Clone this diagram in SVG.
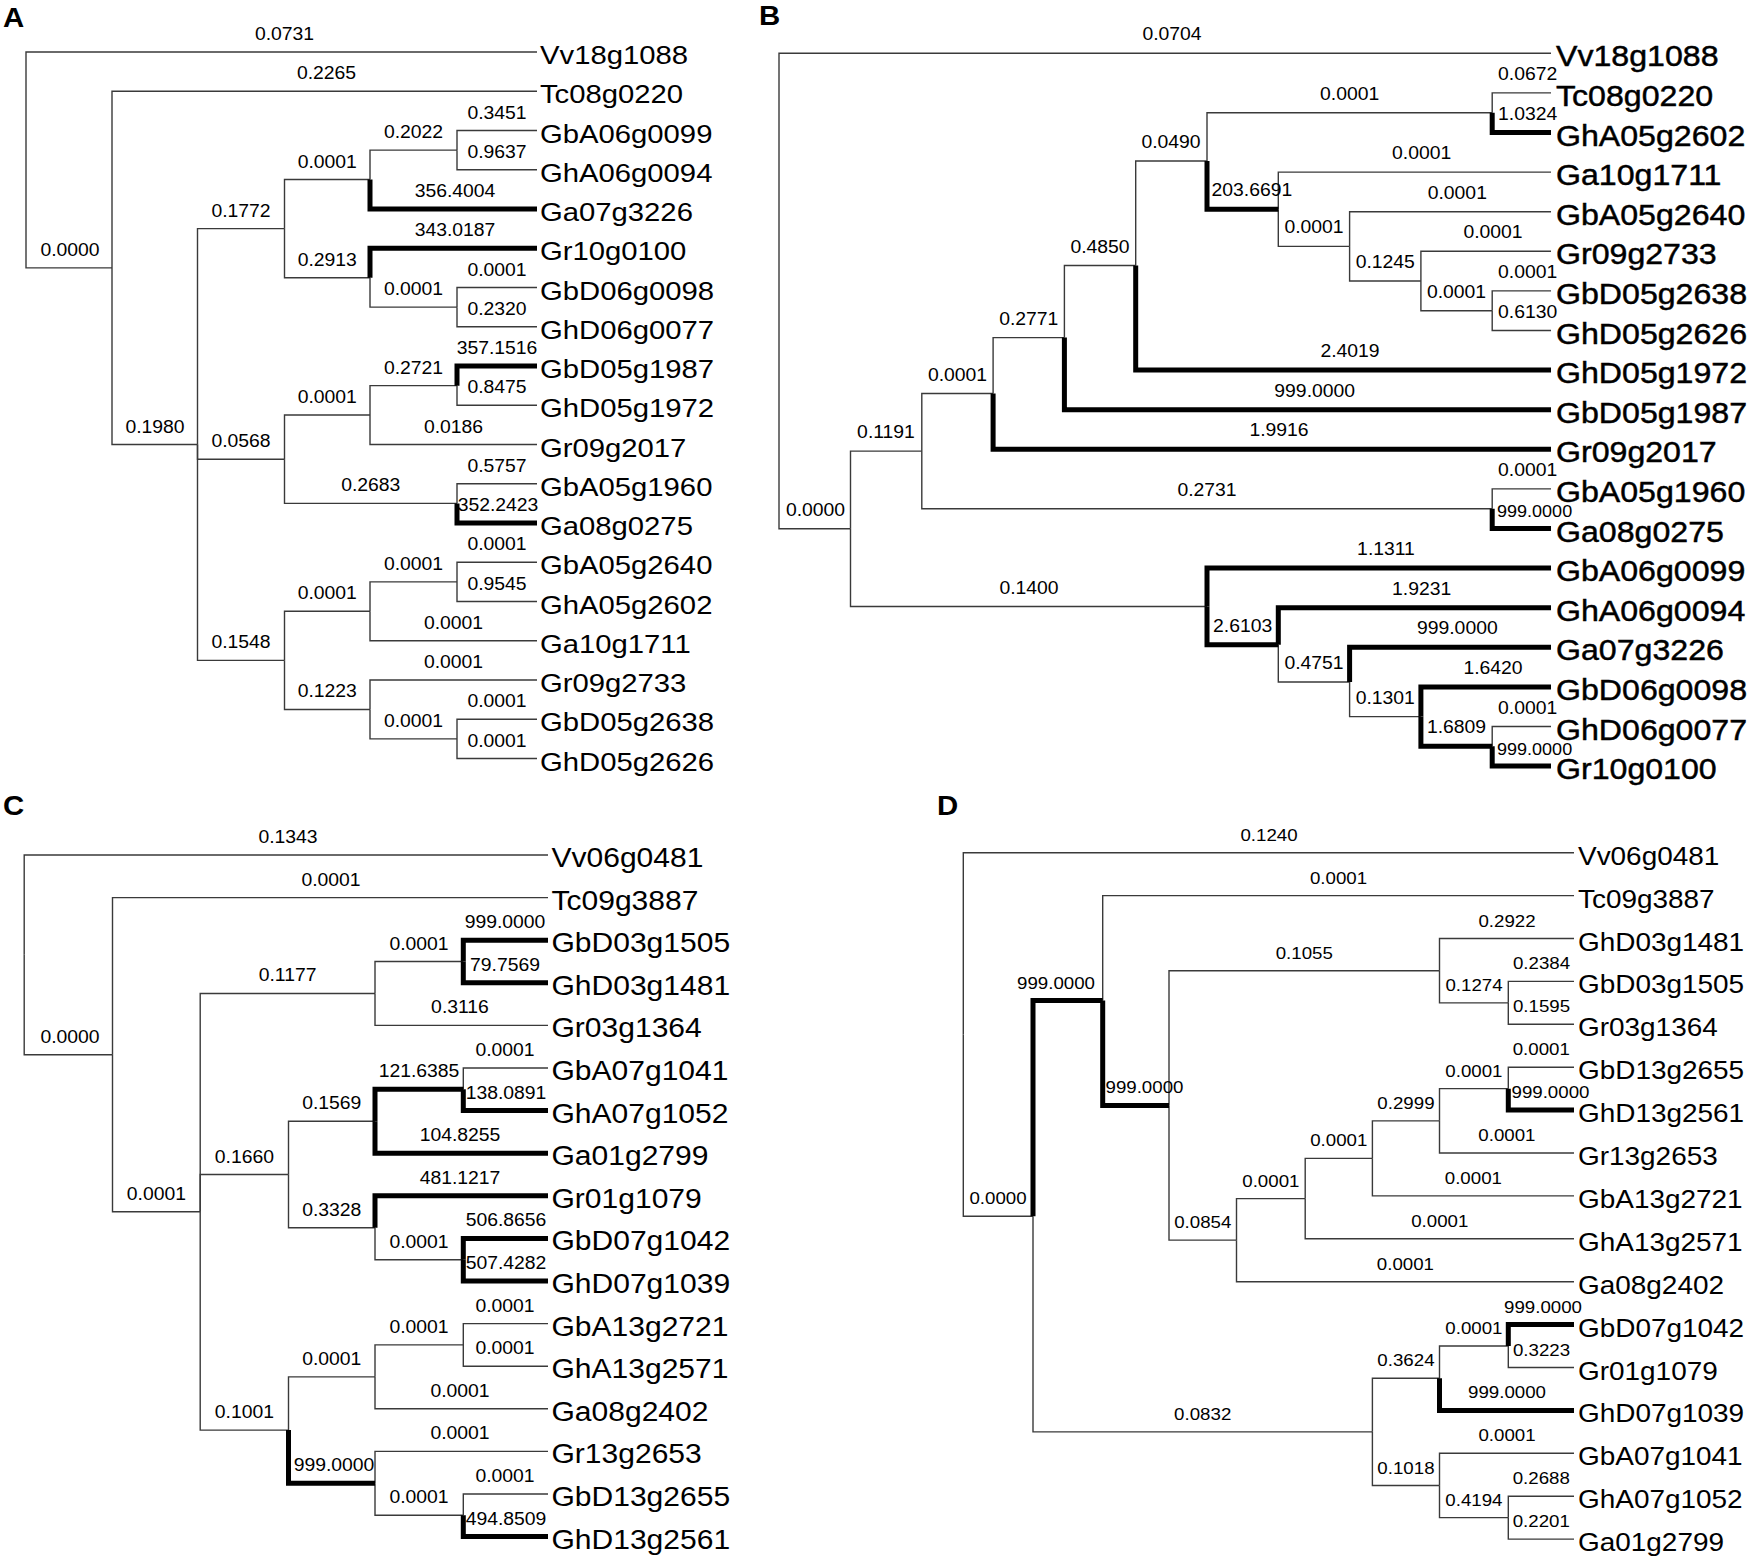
<svg xmlns="http://www.w3.org/2000/svg" width="1750" height="1559" viewBox="0 0 1750 1559">
<style>
.t{fill:none;stroke:#3a3a3a;stroke-width:1.4}
.k{fill:none;stroke:#000;stroke-width:5;stroke-linejoin:miter;stroke-linecap:butt}
text{font-family:"Liberation Sans",Arial,sans-serif;fill:#000}
.bl{font-size:17.6px;text-anchor:middle}
.bs{font-size:17.6px;text-anchor:start}
.bn{font-size:16.4px;text-anchor:start}
.dl{font-size:17px;text-anchor:middle}
.ds{font-size:17px;text-anchor:start}
.ta{font-size:26.6px}
.tb{font-size:29.2px;stroke:#000;stroke-width:0.45}
.tc{font-size:27.3px}
.td{font-size:25.4px}
.pl{font-size:28px;font-weight:bold}
</style>
<rect width="1750" height="1559" fill="#fff"/>

<g id="panel-labels">
<text class="pl" transform="translate(3 27) scale(1.05 1)">A</text>
<text class="pl" transform="translate(759 25) scale(1.05 1)">B</text>
<text class="pl" transform="translate(3 815) scale(1.05 1)">C</text>
<text class="pl" transform="translate(937 815) scale(1.05 1)">D</text>
</g>

<!-- ================= PANEL A ================= -->
<g id="A-connectors">
<path class="t" d="M26 159.94V52H537"/>
<path class="t" d="M26 159.94V267.875H112"/>
<path class="t" d="M112 267.875V91.25H537"/>
<path class="t" d="M112 267.875V444.5H197.5"/>
<path class="t" d="M197.5 444.5V228.63H284.5"/>
<path class="t" d="M197.5 444.5V459.22H284.5"/>
<path class="t" d="M197.5 444.5V660.375H284.5"/>
<path class="t" d="M284.5 228.63V179.56H370"/>
<path class="t" d="M284.5 228.63V277.69H370"/>
<path class="t" d="M370 179.56V150.125H457"/>
<path class="t" d="M457 150.125V130.5H537"/>
<path class="t" d="M457 150.125V169.75H537"/>
<path class="t" d="M370 277.69V307.125H457"/>
<path class="t" d="M457 307.125V287.5H537"/>
<path class="t" d="M457 307.125V326.75H537"/>
<path class="t" d="M284.5 459.22V415.06H370"/>
<path class="t" d="M284.5 459.22V503.375H457"/>
<path class="t" d="M370 415.06V385.625H457"/>
<path class="t" d="M370 415.06V444.5H537"/>
<path class="t" d="M457 385.625V405.25H537"/>
<path class="t" d="M457 503.375V483.75H537"/>
<path class="t" d="M284.5 660.375V611.31H370"/>
<path class="t" d="M284.5 660.375V709.44H370"/>
<path class="t" d="M370 611.31V581.875H457"/>
<path class="t" d="M370 611.31V640.75H537"/>
<path class="t" d="M457 581.875V562.25H537"/>
<path class="t" d="M457 581.875V601.5H537"/>
<path class="t" d="M370 709.44V680H537"/>
<path class="t" d="M370 709.44V738.875H457"/>
<path class="t" d="M457 738.875V719.25H537"/>
<path class="t" d="M457 738.875V758.5H537"/>
<path class="k" d="M370 179.56V209H537"/>
<path class="k" d="M370 277.69V248.25H537"/>
<path class="k" d="M457 385.625V366H537"/>
<path class="k" d="M457 503.375V523H537"/>
<g id="A-branch-labels">
<text class="bl" transform="translate(284.5 40) scale(1.1 1)">0.0731</text>
<text class="bl" transform="translate(70 255.9) scale(1.1 1)">0.0000</text>
<text class="bl" transform="translate(326.5 79.25) scale(1.1 1)">0.2265</text>
<text class="bl" transform="translate(155 432.5) scale(1.1 1)">0.1980</text>
<text class="bl" transform="translate(241 216.6) scale(1.1 1)">0.1772</text>
<text class="bl" transform="translate(241 447.2) scale(1.1 1)">0.0568</text>
<text class="bl" transform="translate(241 648.4) scale(1.1 1)">0.1548</text>
<text class="bl" transform="translate(327.25 167.56) scale(1.1 1)">0.0001</text>
<text class="bl" transform="translate(327.25 265.7) scale(1.1 1)">0.2913</text>
<text class="bl" transform="translate(413.5 138.1) scale(1.1 1)">0.2022</text>
<text class="bl" transform="translate(455 197) scale(1.1 1)">356.4004</text>
<text class="bl" transform="translate(497 118.5) scale(1.1 1)">0.3451</text>
<text class="bl" transform="translate(497 157.75) scale(1.1 1)">0.9637</text>
<text class="bl" transform="translate(455 236.25) scale(1.1 1)">343.0187</text>
<text class="bl" transform="translate(413.5 295.1) scale(1.1 1)">0.0001</text>
<text class="bl" transform="translate(497 275.5) scale(1.1 1)">0.0001</text>
<text class="bl" transform="translate(497 314.75) scale(1.1 1)">0.2320</text>
<text class="bl" transform="translate(327.25 403.06) scale(1.1 1)">0.0001</text>
<text class="bl" transform="translate(370.75 491.4) scale(1.1 1)">0.2683</text>
<text class="bl" transform="translate(413.5 373.6) scale(1.1 1)">0.2721</text>
<text class="bl" transform="translate(453.5 432.5) scale(1.1 1)">0.0186</text>
<text class="bl" transform="translate(497 354) scale(1.1 1)">357.1516</text>
<text class="bl" transform="translate(497 393.25) scale(1.1 1)">0.8475</text>
<text class="bl" transform="translate(497 471.75) scale(1.1 1)">0.5757</text>
<text class="bl" transform="translate(498 511) scale(1.1 1)">352.2423</text>
<text class="bl" transform="translate(327.25 599.3) scale(1.1 1)">0.0001</text>
<text class="bl" transform="translate(327.25 697.4) scale(1.1 1)">0.1223</text>
<text class="bl" transform="translate(413.5 569.9) scale(1.1 1)">0.0001</text>
<text class="bl" transform="translate(453.5 628.75) scale(1.1 1)">0.0001</text>
<text class="bl" transform="translate(497 550.25) scale(1.1 1)">0.0001</text>
<text class="bl" transform="translate(497 589.5) scale(1.1 1)">0.9545</text>
<text class="bl" transform="translate(453.5 668) scale(1.1 1)">0.0001</text>
<text class="bl" transform="translate(413.5 726.9) scale(1.1 1)">0.0001</text>
<text class="bl" transform="translate(497 707.25) scale(1.1 1)">0.0001</text>
<text class="bl" transform="translate(497 746.5) scale(1.1 1)">0.0001</text>
</g>
</g>
<g id="A-nodes" transform="translate(0 1)">
<g id="A-Vv18g1088"><text class="ta" transform="translate(540 63) scale(1.1 1)">Vv18g1088</text></g>
<g id="A-Tc08g0220"><text class="ta" transform="translate(540 102.25) scale(1.1 1)">Tc08g0220</text></g>
<g id="A-GbA06g0099"><text class="ta" transform="translate(540 141.5) scale(1.1 1)">GbA06g0099</text></g>
<g id="A-GhA06g0094"><text class="ta" transform="translate(540 180.75) scale(1.1 1)">GhA06g0094</text></g>
<g id="A-Ga07g3226"><text class="ta" transform="translate(540 220) scale(1.1 1)">Ga07g3226</text></g>
<g id="A-Gr10g0100"><text class="ta" transform="translate(540 259.25) scale(1.1 1)">Gr10g0100</text></g>
<g id="A-GbD06g0098"><text class="ta" transform="translate(540 298.5) scale(1.1 1)">GbD06g0098</text></g>
<g id="A-GhD06g0077"><text class="ta" transform="translate(540 337.75) scale(1.1 1)">GhD06g0077</text></g>
<g id="A-GbD05g1987"><text class="ta" transform="translate(540 377) scale(1.1 1)">GbD05g1987</text></g>
<g id="A-GhD05g1972"><text class="ta" transform="translate(540 416.25) scale(1.1 1)">GhD05g1972</text></g>
<g id="A-Gr09g2017"><text class="ta" transform="translate(540 455.5) scale(1.1 1)">Gr09g2017</text></g>
<g id="A-GbA05g1960"><text class="ta" transform="translate(540 494.75) scale(1.1 1)">GbA05g1960</text></g>
<g id="A-Ga08g0275"><text class="ta" transform="translate(540 534) scale(1.1 1)">Ga08g0275</text></g>
<g id="A-GbA05g2640"><text class="ta" transform="translate(540 573.25) scale(1.1 1)">GbA05g2640</text></g>
<g id="A-GhA05g2602"><text class="ta" transform="translate(540 612.5) scale(1.1 1)">GhA05g2602</text></g>
<g id="A-Ga10g1711"><text class="ta" transform="translate(540 651.75) scale(1.1 1)">Ga10g1711</text></g>
<g id="A-Gr09g2733"><text class="ta" transform="translate(540 691) scale(1.1 1)">Gr09g2733</text></g>
<g id="A-GbD05g2638"><text class="ta" transform="translate(540 730.25) scale(1.1 1)">GbD05g2638</text></g>
<g id="A-GhD05g2626"><text class="ta" transform="translate(540 769.5) scale(1.1 1)">GhD05g2626</text></g>
</g>

<!-- ================= PANEL B ================= -->
<g id="B-connectors">
<path class="t" d="M779 291.03V53.3H1551"/>
<path class="t" d="M779 291.03V528.77H850.5"/>
<path class="t" d="M850.5 528.77V451.08H921.8"/>
<path class="t" d="M850.5 528.77V606.46H1207"/>
<path class="t" d="M921.8 451.08V393.46H993.1"/>
<path class="t" d="M921.8 451.08V508.7H1492.2"/>
<path class="t" d="M1492.2 508.7V488.9H1551"/>
<path class="t" d="M993.1 393.46V337.62H1064.4"/>
<path class="t" d="M1064.4 337.62V265.53H1135.7"/>
<path class="t" d="M1135.7 265.53V160.96H1207"/>
<path class="t" d="M1207 160.96V112.7H1492.2"/>
<path class="t" d="M1492.2 112.7V92.9H1551"/>
<path class="t" d="M1278.3 209.225V172.1H1551"/>
<path class="t" d="M1278.3 209.225V246.35H1349.6"/>
<path class="t" d="M1349.6 246.35V211.7H1551"/>
<path class="t" d="M1349.6 246.35V281H1420.9"/>
<path class="t" d="M1420.9 281V251.3H1551"/>
<path class="t" d="M1420.9 281V310.7H1492.2"/>
<path class="t" d="M1492.2 310.7V290.9H1551"/>
<path class="t" d="M1492.2 310.7V330.5H1551"/>
<path class="t" d="M1278.3 644.83V681.95H1349.6"/>
<path class="t" d="M1349.6 681.95V716.6H1420.9"/>
<path class="t" d="M1492.2 746.3V726.5H1551"/>
<path class="k" d="M1492.2 508.7V528.5H1551"/>
<path class="k" d="M993.1 393.46V449.3H1551"/>
<path class="k" d="M1064.4 337.62V409.7H1551"/>
<path class="k" d="M1135.7 265.53V370.1H1551"/>
<path class="k" d="M1207 160.96V209.225H1278.3"/>
<path class="k" d="M1492.2 112.7V132.5H1551"/>
<path class="k" d="M1207 606.46V568.1H1551"/>
<path class="k" d="M1207 606.46V644.83H1278.3"/>
<path class="k" d="M1278.3 644.83V607.7H1551"/>
<path class="k" d="M1349.6 681.95V647.3H1551"/>
<path class="k" d="M1420.9 716.6V686.9H1551"/>
<path class="k" d="M1420.9 716.6V746.3H1492.2"/>
<path class="k" d="M1492.2 746.3V766.1H1551"/>
<g id="B-branch-labels">
<text class="bl" transform="translate(1172 40.3) scale(1.1 1)">0.0704</text>
<text class="bl" transform="translate(815.5 515.8) scale(1.1 1)">0.0000</text>
<text class="bl" transform="translate(886 438) scale(1.1 1)">0.1191</text>
<text class="bl" transform="translate(1029 593.5) scale(1.1 1)">0.1400</text>
<text class="bl" transform="translate(957.5 380.5) scale(1.1 1)">0.0001</text>
<text class="bl" transform="translate(1207 495.7) scale(1.1 1)">0.2731</text>
<text class="bs" transform="translate(1498 475.9) scale(1.1 1)">0.0001</text>
<text class="bn" transform="translate(1497 517) scale(1.1 1)">999.0000</text>
<text class="bl" transform="translate(1028.75 324.6) scale(1.1 1)">0.2771</text>
<text class="bl" transform="translate(1279 436.3) scale(1.1 1)">1.9916</text>
<text class="bl" transform="translate(1100 252.5) scale(1.1 1)">0.4850</text>
<text class="bl" transform="translate(1314.7 396.7) scale(1.1 1)">999.0000</text>
<text class="bl" transform="translate(1171 148) scale(1.1 1)">0.0490</text>
<text class="bl" transform="translate(1350 357.1) scale(1.1 1)">2.4019</text>
<text class="bl" transform="translate(1349.6 99.7) scale(1.1 1)">0.0001</text>
<text class="bs" transform="translate(1211.5 196.2) scale(1.1 1)">203.6691</text>
<text class="bs" transform="translate(1498 79.9) scale(1.1 1)">0.0672</text>
<text class="bs" transform="translate(1498 119.5) scale(1.1 1)">1.0324</text>
<text class="bl" transform="translate(1421.7 159.1) scale(1.1 1)">0.0001</text>
<text class="bl" transform="translate(1314 233.35) scale(1.1 1)">0.0001</text>
<text class="bl" transform="translate(1457.3 198.7) scale(1.1 1)">0.0001</text>
<text class="bl" transform="translate(1385.25 268) scale(1.1 1)">0.1245</text>
<text class="bl" transform="translate(1493 238.3) scale(1.1 1)">0.0001</text>
<text class="bl" transform="translate(1456.5 297.7) scale(1.1 1)">0.0001</text>
<text class="bs" transform="translate(1498 277.9) scale(1.1 1)">0.0001</text>
<text class="bs" transform="translate(1498 317.5) scale(1.1 1)">0.6130</text>
<text class="bl" transform="translate(1386 555.1) scale(1.1 1)">1.1311</text>
<text class="bl" transform="translate(1242.65 631.8) scale(1.1 1)">2.6103</text>
<text class="bl" transform="translate(1421.65 594.7) scale(1.1 1)">1.9231</text>
<text class="bl" transform="translate(1314 668.95) scale(1.1 1)">0.4751</text>
<text class="bl" transform="translate(1457.3 634.3) scale(1.1 1)">999.0000</text>
<text class="bl" transform="translate(1385.25 703.6) scale(1.1 1)">0.1301</text>
<text class="bl" transform="translate(1493 673.9) scale(1.1 1)">1.6420</text>
<text class="bl" transform="translate(1456.5 733.3) scale(1.1 1)">1.6809</text>
<text class="bs" transform="translate(1498 713.5) scale(1.1 1)">0.0001</text>
<text class="bn" transform="translate(1497 754.6) scale(1.1 1)">999.0000</text>
</g>
</g>
<g id="B-nodes" transform="translate(0 0.5)">
<g id="B-Vv18g1088"><text class="tb" transform="translate(1556 65.8) scale(1.1 1)">Vv18g1088</text></g>
<g id="B-Tc08g0220"><text class="tb" transform="translate(1556 105.4) scale(1.1 1)">Tc08g0220</text></g>
<g id="B-GhA05g2602"><text class="tb" transform="translate(1556 145) scale(1.1 1)">GhA05g2602</text></g>
<g id="B-Ga10g1711"><text class="tb" transform="translate(1556 184.6) scale(1.1 1)">Ga10g1711</text></g>
<g id="B-GbA05g2640"><text class="tb" transform="translate(1556 224.2) scale(1.1 1)">GbA05g2640</text></g>
<g id="B-Gr09g2733"><text class="tb" transform="translate(1556 263.8) scale(1.1 1)">Gr09g2733</text></g>
<g id="B-GbD05g2638"><text class="tb" transform="translate(1556 303.4) scale(1.1 1)">GbD05g2638</text></g>
<g id="B-GhD05g2626"><text class="tb" transform="translate(1556 343) scale(1.1 1)">GhD05g2626</text></g>
<g id="B-GhD05g1972"><text class="tb" transform="translate(1556 382.6) scale(1.1 1)">GhD05g1972</text></g>
<g id="B-GbD05g1987"><text class="tb" transform="translate(1556 422.2) scale(1.1 1)">GbD05g1987</text></g>
<g id="B-Gr09g2017"><text class="tb" transform="translate(1556 461.8) scale(1.1 1)">Gr09g2017</text></g>
<g id="B-GbA05g1960"><text class="tb" transform="translate(1556 501.4) scale(1.1 1)">GbA05g1960</text></g>
<g id="B-Ga08g0275"><text class="tb" transform="translate(1556 541) scale(1.1 1)">Ga08g0275</text></g>
<g id="B-GbA06g0099"><text class="tb" transform="translate(1556 580.6) scale(1.1 1)">GbA06g0099</text></g>
<g id="B-GhA06g0094"><text class="tb" transform="translate(1556 620.2) scale(1.1 1)">GhA06g0094</text></g>
<g id="B-Ga07g3226"><text class="tb" transform="translate(1556 659.8) scale(1.1 1)">Ga07g3226</text></g>
<g id="B-GbD06g0098"><text class="tb" transform="translate(1556 699.4) scale(1.1 1)">GbD06g0098</text></g>
<g id="B-GhD06g0077"><text class="tb" transform="translate(1556 739) scale(1.1 1)">GhD06g0077</text></g>
<g id="B-Gr10g0100"><text class="tb" transform="translate(1556 778.6) scale(1.1 1)">Gr10g0100</text></g>
</g>

<!-- ================= PANEL C ================= -->
<g id="C-connectors">
<path class="t" d="M24.2 954.85V855H548"/>
<path class="t" d="M24.2 954.85V1054.69H112.5"/>
<path class="t" d="M112.5 1054.69V897.6H548"/>
<path class="t" d="M112.5 1054.69V1211.78H200.2"/>
<path class="t" d="M200.2 1211.78V993.45H375"/>
<path class="t" d="M200.2 1211.78V1174.5H288.5"/>
<path class="t" d="M200.2 1211.78V1430.1H288.5"/>
<path class="t" d="M375 993.45V961.5H463.3"/>
<path class="t" d="M375 993.45V1025.4H548"/>
<path class="t" d="M288.5 1174.5V1121.25H375"/>
<path class="t" d="M288.5 1174.5V1227.75H375"/>
<path class="t" d="M463.3 1089.3V1068H548"/>
<path class="t" d="M375 1227.75V1259.7H463.3"/>
<path class="t" d="M288.5 1430.1V1376.85H375"/>
<path class="t" d="M375 1376.85V1344.9H463.3"/>
<path class="t" d="M375 1376.85V1408.8H548"/>
<path class="t" d="M463.3 1344.9V1323.6H548"/>
<path class="t" d="M463.3 1344.9V1366.2H548"/>
<path class="t" d="M375 1483.35V1451.4H548"/>
<path class="t" d="M375 1483.35V1515.3H463.3"/>
<path class="t" d="M463.3 1515.3V1494H548"/>
<path class="k" d="M463.3 961.5V940.2H548"/>
<path class="k" d="M463.3 961.5V982.8H548"/>
<path class="k" d="M375 1121.25V1089.3H463.3"/>
<path class="k" d="M375 1121.25V1153.2H548"/>
<path class="k" d="M463.3 1089.3V1110.6H548"/>
<path class="k" d="M375 1227.75V1195.8H548"/>
<path class="k" d="M463.3 1259.7V1238.4H548"/>
<path class="k" d="M463.3 1259.7V1281H548"/>
<path class="k" d="M288.5 1430.1V1483.35H375"/>
<path class="k" d="M463.3 1515.3V1536.6H548"/>
<g id="C-branch-labels">
<text class="bl" transform="translate(288 843) scale(1.1 1)">0.1343</text>
<text class="bl" transform="translate(70 1042.7) scale(1.1 1)">0.0000</text>
<text class="bl" transform="translate(331 885.6) scale(1.1 1)">0.0001</text>
<text class="bl" transform="translate(156.35 1199.8) scale(1.1 1)">0.0001</text>
<text class="bl" transform="translate(287.6 981.45) scale(1.1 1)">0.1177</text>
<text class="bl" transform="translate(244.35 1162.5) scale(1.1 1)">0.1660</text>
<text class="bl" transform="translate(244.35 1418.1) scale(1.1 1)">0.1001</text>
<text class="bl" transform="translate(419 949.5) scale(1.1 1)">0.0001</text>
<text class="bl" transform="translate(460 1013.4) scale(1.1 1)">0.3116</text>
<text class="bl" transform="translate(505 928.2) scale(1.1 1)">999.0000</text>
<text class="bl" transform="translate(505 970.8) scale(1.1 1)">79.7569</text>
<text class="bl" transform="translate(331.75 1109.25) scale(1.1 1)">0.1569</text>
<text class="bl" transform="translate(331.75 1215.75) scale(1.1 1)">0.3328</text>
<text class="bl" transform="translate(419 1077.3) scale(1.1 1)">121.6385</text>
<text class="bl" transform="translate(460 1141.2) scale(1.1 1)">104.8255</text>
<text class="bl" transform="translate(505 1056) scale(1.1 1)">0.0001</text>
<text class="bl" transform="translate(506 1098.6) scale(1.1 1)">138.0891</text>
<text class="bl" transform="translate(460 1183.8) scale(1.1 1)">481.1217</text>
<text class="bl" transform="translate(419 1247.7) scale(1.1 1)">0.0001</text>
<text class="bl" transform="translate(506 1226.4) scale(1.1 1)">506.8656</text>
<text class="bl" transform="translate(506 1269) scale(1.1 1)">507.4282</text>
<text class="bl" transform="translate(331.75 1364.85) scale(1.1 1)">0.0001</text>
<text class="bl" transform="translate(334 1471.35) scale(1.1 1)">999.0000</text>
<text class="bl" transform="translate(419 1332.9) scale(1.1 1)">0.0001</text>
<text class="bl" transform="translate(460 1396.8) scale(1.1 1)">0.0001</text>
<text class="bl" transform="translate(505 1311.6) scale(1.1 1)">0.0001</text>
<text class="bl" transform="translate(505 1354.2) scale(1.1 1)">0.0001</text>
<text class="bl" transform="translate(460 1439.4) scale(1.1 1)">0.0001</text>
<text class="bl" transform="translate(419 1503.3) scale(1.1 1)">0.0001</text>
<text class="bl" transform="translate(505 1482) scale(1.1 1)">0.0001</text>
<text class="bl" transform="translate(506 1524.6) scale(1.1 1)">494.8509</text>
</g>
</g>
<g id="C-nodes" transform="translate(0 1)">
<g id="C-Vv06g0481"><text class="tc" transform="translate(551.5 866) scale(1.1 1)">Vv06g0481</text></g>
<g id="C-Tc09g3887"><text class="tc" transform="translate(551.5 908.6) scale(1.1 1)">Tc09g3887</text></g>
<g id="C-GbD03g1505"><text class="tc" transform="translate(551.5 951.2) scale(1.1 1)">GbD03g1505</text></g>
<g id="C-GhD03g1481"><text class="tc" transform="translate(551.5 993.8) scale(1.1 1)">GhD03g1481</text></g>
<g id="C-Gr03g1364"><text class="tc" transform="translate(551.5 1036.4) scale(1.1 1)">Gr03g1364</text></g>
<g id="C-GbA07g1041"><text class="tc" transform="translate(551.5 1079) scale(1.1 1)">GbA07g1041</text></g>
<g id="C-GhA07g1052"><text class="tc" transform="translate(551.5 1121.6) scale(1.1 1)">GhA07g1052</text></g>
<g id="C-Ga01g2799"><text class="tc" transform="translate(551.5 1164.2) scale(1.1 1)">Ga01g2799</text></g>
<g id="C-Gr01g1079"><text class="tc" transform="translate(551.5 1206.8) scale(1.1 1)">Gr01g1079</text></g>
<g id="C-GbD07g1042"><text class="tc" transform="translate(551.5 1249.4) scale(1.1 1)">GbD07g1042</text></g>
<g id="C-GhD07g1039"><text class="tc" transform="translate(551.5 1292) scale(1.1 1)">GhD07g1039</text></g>
<g id="C-GbA13g2721"><text class="tc" transform="translate(551.5 1334.6) scale(1.1 1)">GbA13g2721</text></g>
<g id="C-GhA13g2571"><text class="tc" transform="translate(551.5 1377.2) scale(1.1 1)">GhA13g2571</text></g>
<g id="C-Ga08g2402"><text class="tc" transform="translate(551.5 1419.8) scale(1.1 1)">Ga08g2402</text></g>
<g id="C-Gr13g2653"><text class="tc" transform="translate(551.5 1462.4) scale(1.1 1)">Gr13g2653</text></g>
<g id="C-GbD13g2655"><text class="tc" transform="translate(551.5 1505) scale(1.1 1)">GbD13g2655</text></g>
<g id="C-GhD13g2561"><text class="tc" transform="translate(551.5 1547.6) scale(1.1 1)">GhD13g2561</text></g>
</g>

<!-- ================= PANEL D ================= -->
<g id="D-connectors">
<path class="t" d="M963.3 1034.44V852.7H1574"/>
<path class="t" d="M963.3 1034.44V1216.18H1033"/>
<path class="t" d="M1033 1216.18V1431.85H1372.4"/>
<path class="t" d="M1102.7 1000.5V895.6H1574"/>
<path class="t" d="M1169 1105.41V970.68H1439.5"/>
<path class="t" d="M1169 1105.41V1240.14H1236.5"/>
<path class="t" d="M1439.5 970.68V938.5H1574"/>
<path class="t" d="M1439.5 970.68V1002.85H1508.3"/>
<path class="t" d="M1508.3 1002.85V981.4H1574"/>
<path class="t" d="M1508.3 1002.85V1024.3H1574"/>
<path class="t" d="M1236.5 1240.14V1198.58H1305.2"/>
<path class="t" d="M1236.5 1240.14V1281.7H1574"/>
<path class="t" d="M1305.2 1198.58V1158.36H1372.4"/>
<path class="t" d="M1305.2 1198.58V1238.8H1574"/>
<path class="t" d="M1372.4 1158.36V1120.83H1439.5"/>
<path class="t" d="M1372.4 1158.36V1195.9H1574"/>
<path class="t" d="M1439.5 1120.83V1088.65H1508.3"/>
<path class="t" d="M1439.5 1120.83V1153H1574"/>
<path class="t" d="M1508.3 1088.65V1067.2H1574"/>
<path class="t" d="M1372.4 1431.85V1378.23H1439.5"/>
<path class="t" d="M1372.4 1431.85V1485.48H1439.5"/>
<path class="t" d="M1439.5 1378.23V1346.05H1508.3"/>
<path class="t" d="M1508.3 1346.05V1367.5H1574"/>
<path class="t" d="M1439.5 1485.48V1453.3H1574"/>
<path class="t" d="M1439.5 1485.48V1517.65H1508.3"/>
<path class="t" d="M1508.3 1517.65V1496.2H1574"/>
<path class="t" d="M1508.3 1517.65V1539.1H1574"/>
<path class="k" d="M1033 1216.18V1000.5H1102.7"/>
<path class="k" d="M1102.7 1000.5V1105.41H1169"/>
<path class="k" d="M1508.3 1088.65V1110.1H1574"/>
<path class="k" d="M1439.5 1378.23V1410.4H1574"/>
<path class="k" d="M1508.3 1346.05V1324.6H1574"/>
<g id="D-branch-labels">
<text class="dl" transform="translate(1269 840.7) scale(1.1 1)">0.1240</text>
<text class="dl" transform="translate(998 1204.2) scale(1.1 1)">0.0000</text>
<text class="dl" transform="translate(1056 988.5) scale(1.1 1)">999.0000</text>
<text class="dl" transform="translate(1202.7 1419.85) scale(1.1 1)">0.0832</text>
<text class="dl" transform="translate(1338.5 883.6) scale(1.1 1)">0.0001</text>
<text class="ds" transform="translate(1105.5 1093.4) scale(1.1 1)">999.0000</text>
<text class="dl" transform="translate(1304.25 958.7) scale(1.1 1)">0.1055</text>
<text class="dl" transform="translate(1202.75 1228.1) scale(1.1 1)">0.0854</text>
<text class="dl" transform="translate(1507 926.5) scale(1.1 1)">0.2922</text>
<text class="dl" transform="translate(1474 990.85) scale(1.1 1)">0.1274</text>
<text class="dl" transform="translate(1541.5 969.4) scale(1.1 1)">0.2384</text>
<text class="dl" transform="translate(1541.5 1012.3) scale(1.1 1)">0.1595</text>
<text class="dl" transform="translate(1270.85 1186.6) scale(1.1 1)">0.0001</text>
<text class="dl" transform="translate(1405.4 1269.7) scale(1.1 1)">0.0001</text>
<text class="dl" transform="translate(1338.8 1146.4) scale(1.1 1)">0.0001</text>
<text class="dl" transform="translate(1439.75 1226.8) scale(1.1 1)">0.0001</text>
<text class="dl" transform="translate(1405.95 1108.8) scale(1.1 1)">0.2999</text>
<text class="dl" transform="translate(1473.35 1183.9) scale(1.1 1)">0.0001</text>
<text class="dl" transform="translate(1473.9 1076.65) scale(1.1 1)">0.0001</text>
<text class="dl" transform="translate(1506.9 1141) scale(1.1 1)">0.0001</text>
<text class="dl" transform="translate(1541.3 1055.2) scale(1.1 1)">0.0001</text>
<text class="ds" transform="translate(1511.5 1098.1) scale(1.1 1)">999.0000</text>
<text class="dl" transform="translate(1405.95 1366.2) scale(1.1 1)">0.3624</text>
<text class="dl" transform="translate(1405.95 1473.5) scale(1.1 1)">0.1018</text>
<text class="dl" transform="translate(1473.9 1334.05) scale(1.1 1)">0.0001</text>
<text class="dl" transform="translate(1507 1398.4) scale(1.1 1)">999.0000</text>
<text class="dl" transform="translate(1543 1312.6) scale(1.1 1)">999.0000</text>
<text class="dl" transform="translate(1541.5 1355.5) scale(1.1 1)">0.3223</text>
<text class="dl" transform="translate(1507 1441.3) scale(1.1 1)">0.0001</text>
<text class="dl" transform="translate(1473.9 1505.65) scale(1.1 1)">0.4194</text>
<text class="dl" transform="translate(1541.3 1484.2) scale(1.1 1)">0.2688</text>
<text class="dl" transform="translate(1541.3 1527.1) scale(1.1 1)">0.2201</text>
</g>
</g>
<g id="D-nodes" transform="translate(0 1)">
<g id="D-Vv06g0481"><text class="td" transform="translate(1578 863.7) scale(1.1 1)">Vv06g0481</text></g>
<g id="D-Tc09g3887"><text class="td" transform="translate(1578 906.6) scale(1.1 1)">Tc09g3887</text></g>
<g id="D-GhD03g1481"><text class="td" transform="translate(1578 949.5) scale(1.1 1)">GhD03g1481</text></g>
<g id="D-GbD03g1505"><text class="td" transform="translate(1578 992.4) scale(1.1 1)">GbD03g1505</text></g>
<g id="D-Gr03g1364"><text class="td" transform="translate(1578 1035.3) scale(1.1 1)">Gr03g1364</text></g>
<g id="D-GbD13g2655"><text class="td" transform="translate(1578 1078.2) scale(1.1 1)">GbD13g2655</text></g>
<g id="D-GhD13g2561"><text class="td" transform="translate(1578 1121.1) scale(1.1 1)">GhD13g2561</text></g>
<g id="D-Gr13g2653"><text class="td" transform="translate(1578 1164) scale(1.1 1)">Gr13g2653</text></g>
<g id="D-GbA13g2721"><text class="td" transform="translate(1578 1206.9) scale(1.1 1)">GbA13g2721</text></g>
<g id="D-GhA13g2571"><text class="td" transform="translate(1578 1249.8) scale(1.1 1)">GhA13g2571</text></g>
<g id="D-Ga08g2402"><text class="td" transform="translate(1578 1292.7) scale(1.1 1)">Ga08g2402</text></g>
<g id="D-GbD07g1042"><text class="td" transform="translate(1578 1335.6) scale(1.1 1)">GbD07g1042</text></g>
<g id="D-Gr01g1079"><text class="td" transform="translate(1578 1378.5) scale(1.1 1)">Gr01g1079</text></g>
<g id="D-GhD07g1039"><text class="td" transform="translate(1578 1421.4) scale(1.1 1)">GhD07g1039</text></g>
<g id="D-GbA07g1041"><text class="td" transform="translate(1578 1464.3) scale(1.1 1)">GbA07g1041</text></g>
<g id="D-GhA07g1052"><text class="td" transform="translate(1578 1507.2) scale(1.1 1)">GhA07g1052</text></g>
<g id="D-Ga01g2799"><text class="td" transform="translate(1578 1550.1) scale(1.1 1)">Ga01g2799</text></g>
</g>
</svg>
